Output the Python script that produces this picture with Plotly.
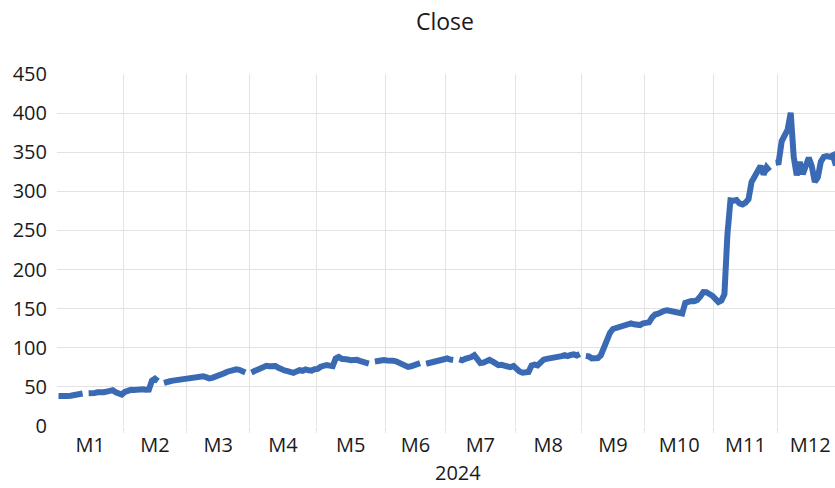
import plotly.graph_objects as go

# ---- data ----
title_text = "Close"
year_label = "2024"
month_labels = ["M1", "M2", "M3", "M4", "M5", "M6", "M7", "M8", "M9", "M10", "M11", "M12"]
# trading-day categories per month (weekdays, Jan starting on the 2nd)
month_days = [22, 21, 21, 22, 23, 20, 23, 22, 21, 23, 21, 22]

close_jan = [38.5, 37.8, 38.0, 38.2, 38.6, 39.2, 40.1, 40.9, 41.6, None, 42.0, 41.5, 42.3, 43.0,
             42.6, 43.1, 44.0, 45.0, 45.8, 43.2, 40.8, 40.2]
close_feb = [43.5, 45.5, 46.2, 46.0, 46.8, 47.3, 46.9, 46.3, 46.5, 58.0, 60.5, 57.5, None, 55.0,
             56.8, 57.2, 58.0, 58.6, 59.4, 58.8, 60.5]
close_mar = [60.0, 61.5, 62.3, 61.8, 63.0, 63.5, 62.4, 60.8, 61.5, 62.8, 63.6, 64.2, 67.5, 69.4,
             70.8, 72.0, 72.5, 71.8, 71.0, 68.5, None]
close_apr = [68.5, 70.2, 72.0, 74.1, 75.6, 77.0, 76.4, 77.5, 76.8, 74.5, 72.3, 71.0, 70.2, 69.5,
             68.0, 69.8, 71.4, 70.6, 72.3, 71.2, 70.8, 72.5]
close_may = [73.0, 75.8, 77.6, 78.0, 77.2, 76.5, 86.5, 88.3, 86.0, 84.5, 85.0, 84.2, 85.3, 84.6,
             83.2, 81.5, 80.2, 79.8, None, 82.4, 83.6, 83.0, 84.2]
close_jun = [83.8, 84.5, 83.5, 82.6, 80.8, 78.6, 76.8, 75.6, 76.3, 78.2, 79.5, 80.4, None, 79.6,
             80.5, 81.8, 82.6, 83.5, 84.2, 85.8]
close_jul = [86.3, 85.0, 84.6, None, 85.2, 84.0, 85.8, 86.3, 88.2, 90.6, 84.2, 80.5, 81.0, 83.8,
             84.6, 82.5, 79.3, 77.8, 78.3, 77.2, 76.4, 75.2, 76.8]
close_aug = [72.0, 69.8, 68.2, 68.5, 69.2, 77.4, 78.6, 77.5, 82.4, 84.8, 85.9, 86.3, 87.2, 88.6,
             88.1, 89.3, 90.5, 89.4, 90.8, 91.6, 90.2, 92.0]
close_sep = [None, 89.5, 89.0, 86.5, 86.0, 86.8, 90.5, 101.5, 111.5, 119.0, 124.0, 125.2, 126.5,
             127.5, 128.6, 130.5, 131.2, 130.0, 128.5, 129.0, 131.3]
close_oct = [131.6, 132.5, 138.8, 142.5, 143.5, 146.0, 147.2, 148.0, 147.5, 145.8, 145.0, 145.6,
             143.8, 157.5, 159.2, 159.8, 159.6, 161.0, 165.5, 171.3, 171.0, 169.0, 166.5]
close_nov = [162.5, 158.5, 160.5, 168.5, 245.0, 288.5, 288.0, 288.8, 284.5, 283.2, 285.5, 290.0,
             312.0, 320.0, 324.5, 332.5, 321.5, 330.5, 326.0, None, 336.5]
close_dec = [337.0, 364.0, 373.5, 379.0, 400.5, 344.0, 320.5, 337.5, 322.0, 336.0, 343.0, 332.0,
             312.0, 318.0, 338.0, 344.0, 345.0, 344.0, 346.0, 333.0]

y_ticks = [0, 50, 100, 150, 200, 250, 300, 350, 400, 450]

# ---- build ----
close = (close_jan + close_feb + close_mar + close_apr + close_may + close_jun + close_jul
         + close_aug + close_sep + close_oct + close_nov + close_dec)
x = list(range(len(close)))

starts = []
s = 0
for n in month_days:
    starts.append(s)
    s += n
boundaries = [st - 0.5 for st in starts[1:]]
centers = [st + (n - 1) / 2 for st, n in zip(starts, month_days)]

FONT = "Open Sans"
GRID = "#e3e3e3"
LINE = "#3a6ab4"
TXT = "#1a1a1a"

fig = go.Figure(
    go.Scatter(x=x, y=close, mode="lines", connectgaps=False,
               line=dict(color=LINE, width=6), showlegend=False)
)

fig.update_layout(
    width=835, height=488,
    margin=dict(l=57, r=0, t=74, b=62),
    paper_bgcolor="white", plot_bgcolor="white",
    font=dict(family=FONT, color=TXT, size=20),
    title=dict(text=title_text, x=445 / 835, xref="container", xanchor="center",
               y=1 - 22 / 488, yref="container", yanchor="middle",
               font=dict(family=FONT, size=23, color=TXT)),
    xaxis=dict(range=[-0.5, 257.7], tickmode="array", tickvals=centers, ticktext=month_labels,
               showgrid=False, zeroline=False, showline=False, ticks="",
               ticklabelstandoff=5,
               tickfont=dict(family=FONT, size=20, color=TXT),
               minor=dict(tickmode="array", tickvals=boundaries, showgrid=True,
                          gridcolor=GRID, gridwidth=1, ticks="outside", ticklen=6,
                          tickcolor=GRID, tickwidth=1)),
    yaxis=dict(range=[0, 450], tickmode="array", tickvals=y_ticks,
               showgrid=True, gridcolor=GRID, gridwidth=1, zeroline=False, showline=False,
               ticks="", ticklabelstandoff=9,
               tickfont=dict(family=FONT, size=20, color=TXT)),
    annotations=[dict(text=year_label, xref="paper", yref="paper",
                      x=(458 - 57) / 778, y=-(472 - 426) / 352,
                      xanchor="center", yanchor="middle", showarrow=False,
                      borderpad=0,
                      font=dict(family=FONT, size=20, color=TXT))],
)

fig.write_html("out.html", config={"displayModeBar": False})
